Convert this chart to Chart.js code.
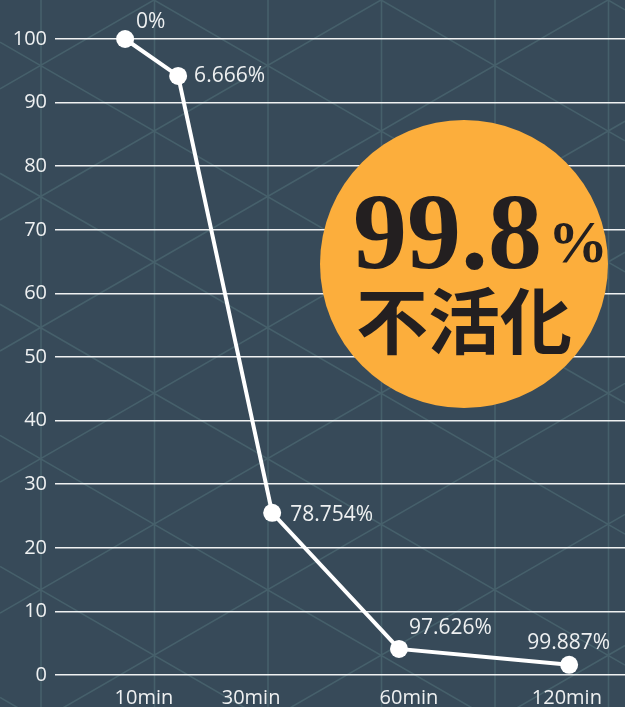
<!DOCTYPE html>
<html>
<head>
<meta charset="utf-8">
<script src="https://cdn.jsdelivr.net/npm/chart.js@4.4.1/dist/chart.umd.min.js"></script>
<style>
  html, body { margin: 0; padding: 0; background: #374a59; }
  #chart { display: block; }
</style>
</head>
<body>
<canvas id="chart" width="625" height="707"></canvas>
<script>
/* ---- data ---- */
const pointPos = [12.3, 21.6, 38.1, 60.35, 90.2];          // x position of each sample
const remaining = [100, 94.2, 25.5, 4.1, 1.6];              // plotted value (%)
const inactivation = ['0%', '6.666%', '78.754%', '97.626%', '99.887%'];
const tickPos = [15.6, 34.4, 62.1, 89.8];
const tickLabels = ['10min', '30min', '60min', '120min'];
const headline = '99.8';
const headlineUnit = '%';
const headlineSub = '不活化';

/* ---- label offsets (px from point) ---- */
const labelOffsets = [[11, -17], [16, 0], [18, 2], [10, -21], [-42, -22]];

const BG = '#374a59';
const LATTICE = '#46606b';
const TEXT = '#eef0f1';
const FONT = "'Open Sans', 'Noto Sans', sans-serif";
const SERIF = "'Liberation Serif', 'DejaVu Serif', serif";

/* ---- triangular lattice behind everything ---- */
const latticeBg = {
  id: 'latticeBg',
  beforeDraw(chart) {
    const { ctx, width, height } = chart;
    ctx.save();
    ctx.fillStyle = BG;
    ctx.fillRect(0, 0, width, height);
    ctx.strokeStyle = LATTICE;
    ctx.lineWidth = 1.6;
    const step = 113.5;
    const slope = Math.tan(Math.PI / 6);
    ctx.beginPath();
    for (let x = 41 - step; x < width + step; x += step) {
      ctx.moveTo(x, 0); ctx.lineTo(x, height);
    }
    const rise = 2 * step * slope;
    for (let k = -10; k < 16; k++) {
      const c1 = 154 * slope + k * rise;      // y = -slope*x + c1
      ctx.moveTo(0, c1); ctx.lineTo(width, c1 - slope * width);
      const c2 = -154 * slope + k * rise;     // y = slope*x + c2
      ctx.moveTo(0, c2); ctx.lineTo(width, c2 + slope * width);
    }
    ctx.stroke();
    ctx.restore();
  },
};

/* ---- percentage labels next to each point ---- */
const pointLabels = {
  id: 'pointLabels',
  afterDatasetsDraw(chart) {
    const { ctx } = chart;
    const meta = chart.getDatasetMeta(0);
    ctx.save();
    ctx.font = `21px ${FONT}`;
    ctx.fillStyle = TEXT;
    ctx.textAlign = 'left';
    ctx.textBaseline = 'middle';
    meta.data.forEach((pt, i) => {
      const [dx, dy] = labelOffsets[i];
      ctx.fillText(inactivation[i], pt.x + dx, pt.y + dy);
    });
    ctx.restore();
  },
};

/* ---- orange badge ---- */
const badge = {
  id: 'badge',
  afterDraw(chart) {
    const { ctx } = chart;
    const cx = 464, cy = 264, r = 144;
    ctx.save();
    ctx.fillStyle = '#fcae3c';
    ctx.beginPath();
    ctx.arc(cx, cy, r, 0, Math.PI * 2);
    ctx.fill();

    ctx.fillStyle = '#231f20';
    ctx.textBaseline = 'alphabetic';
    ctx.textAlign = 'left';
    const startX = cx - 111;
    ctx.font = `bold 108px ${SERIF}`;
    const w1 = ctx.measureText(headline).width;
    ctx.fillText(headline, startX, 268);
    ctx.font = `bold 60px ${SERIF}`;
    ctx.fillText(headlineUnit, startX + w1 + 6, 262);

    ctx.textAlign = 'center';
    ctx.textBaseline = 'middle';
    ctx.font = "bold 72px 'Noto Sans CJK JP', sans-serif";
    ctx.fillText(headlineSub, cx, 321);
    ctx.restore();
  },
};

new Chart(document.getElementById('chart'), {
  type: 'line',
  data: {
    datasets: [{
      data: pointPos.map((x, i) => ({ x, y: remaining[i] })),
      borderColor: '#ffffff',
      borderWidth: 4,
      pointRadius: 9,
      pointHoverRadius: 9,
      pointBackgroundColor: '#ffffff',
      pointBorderWidth: 0,
      tension: 0,
      clip: false,
    }],
  },
  options: {
    responsive: false,
    animation: false,
    layout: { autoPadding: false, padding: { top: 39, left: 0, right: 0, bottom: 0 } },
    plugins: { legend: { display: false }, tooltip: { enabled: false } },
    scales: {
      x: {
        type: 'linear',
        min: 0, max: 100,
        afterBuildTicks: (scale) => { scale.ticks = tickPos.map((v) => ({ value: v })); },
        afterFit: (scale) => { scale.height = 32; },
        grid: { display: false, drawTicks: false },
        border: { display: false },
        ticks: {
          autoSkip: false, maxRotation: 0, padding: 11,
          color: TEXT, font: { family: FONT, size: 20 },
          callback: (v) => tickLabels[tickPos.indexOf(v)] ?? '',
        },
      },
      y: {
        min: 0, max: 100,
        afterFit: (scale) => { scale.width = 55; },
        grid: { color: 'rgba(255,255,255,0.92)', lineWidth: 1.5, drawTicks: false },
        border: { display: false },
        ticks: { stepSize: 10, padding: 8, color: TEXT, font: { family: FONT, size: 20 } },
      },
    },
  },
  plugins: [latticeBg, pointLabels, badge],
});
</script>
</body>
</html>
